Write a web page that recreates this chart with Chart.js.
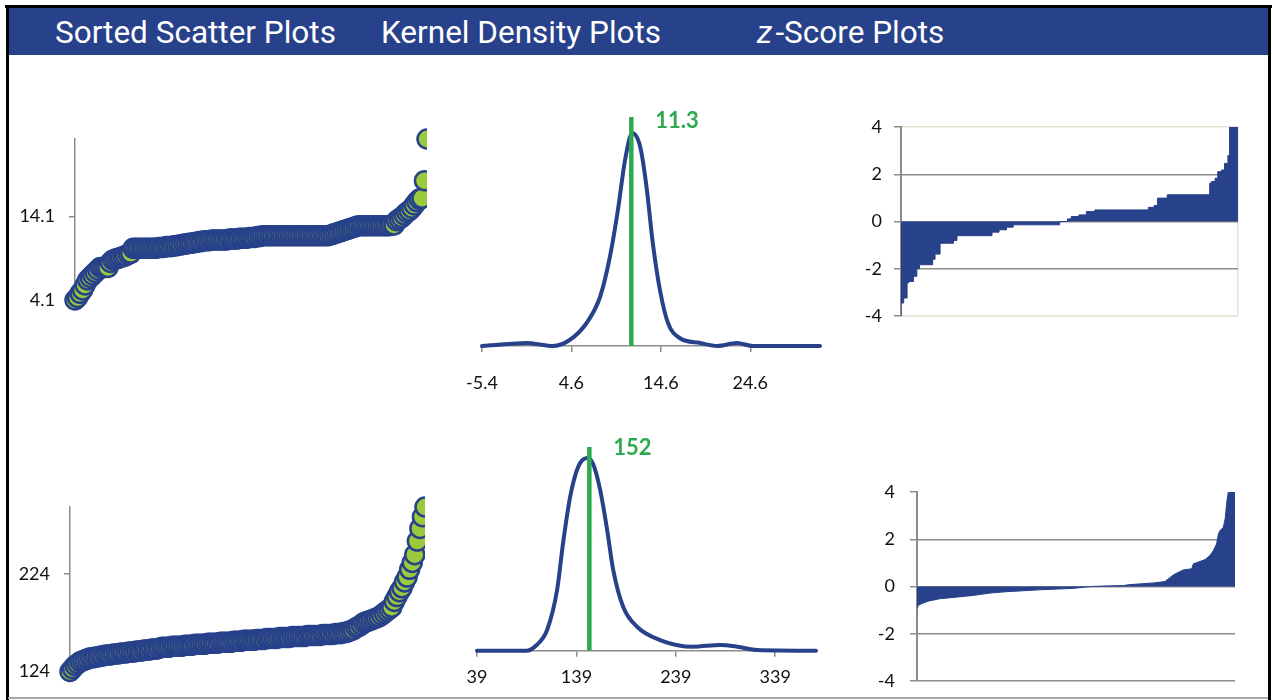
<!DOCTYPE html>
<html>
<head>
<meta charset="utf-8">
<title>Sorted Scatter, Kernel Density and z-Score Plots</title>
<script src="https://cdn.jsdelivr.net/npm/chart.js@4.4.1/dist/chart.umd.min.js"></script>
<style>
  body { margin: 0; background: #fff; width: 1272px; height: 700px; position: relative; overflow: hidden; }
  canvas { position: absolute; }
  .line { position: absolute; }
  .banner { position: absolute; left: 8px; top: 8px; width: 1260px; height: 47px; background: #27418A; }
  .banner span { position: absolute; top: 0; line-height: 50px; color: #fff; font-family: Roboto, sans-serif; font-size: 31.5px; white-space: nowrap; }
</style>
</head>
<body>
  <div class="banner">
    <span style="left:47px">Sorted Scatter Plots</span>
    <span style="left:373px">Kernel Density Plots</span>
    <span style="left:749px"><i>z</i>&#8202;-Score Plots</span>
  </div>

  <canvas id="scatterTop" width="440" height="240" style="left:0;top:100px"></canvas>
  <canvas id="kdeTop" width="400" height="300" style="left:440px;top:100px"></canvas>
  <canvas id="zTop" width="420" height="250" style="left:840px;top:100px"></canvas>
  <canvas id="scatterBottom" width="440" height="240" style="left:0;top:470px"></canvas>
  <canvas id="kdeBottom" width="400" height="280" style="left:440px;top:420px"></canvas>
  <canvas id="zBottom" width="420" height="250" style="left:840px;top:460px"></canvas>

  <div class="line" style="left:5px;top:5px;width:1267px;height:3px;background:#000"></div>
  <div class="line" style="left:6px;top:5px;width:2.5px;height:695px;background:#000"></div>
  <div class="line" style="left:1268px;top:5px;width:3px;height:695px;background:#000"></div>
  <div class="line" style="left:8px;top:697px;width:1260px;height:2px;background:#A6A6A6"></div>

<script>
// sorted scatter values (ascending, one per observation)
const sortedTop = [
  4.1, 4.4, 4.9, 5.3, 5.9, 6.5, 6.8, 7.1, 7.4, 7.7,
  8.0, 8.0, 8.0, 8.0, 8.6, 8.9, 9.0, 9.1, 9.2, 9.3,
  9.4, 9.6, 9.7, 10.3, 10.3, 10.3, 10.3, 10.3, 10.3, 10.3,
  10.3, 10.3, 10.3, 10.4, 10.4, 10.4, 10.5, 10.5, 10.5, 10.6,
  10.6, 10.7, 10.7, 10.8, 10.8, 10.9, 10.9, 11.0, 11.0, 11.1,
  11.1, 11.2, 11.2, 11.2, 11.3, 11.3, 11.3, 11.3, 11.3, 11.3,
  11.3, 11.4, 11.4, 11.4, 11.4, 11.5, 11.5, 11.5, 11.5, 11.6,
  11.6, 11.6, 11.7, 11.7, 11.8, 11.8, 11.8, 11.8, 11.8, 11.8,
  11.8, 11.8, 11.8, 11.8, 11.8, 11.8, 11.8, 11.8, 11.8, 11.8,
  11.8, 11.8, 11.8, 11.8, 11.8, 11.8, 11.8, 11.8, 11.8, 11.8,
  11.8, 11.9, 12.0, 12.1, 12.2, 12.3, 12.4, 12.5, 12.6, 12.7,
  12.8, 12.9, 13.0, 13.0, 13.0, 13.0, 13.0, 13.0, 13.0, 13.0,
  13.0, 13.0, 13.0, 13.0, 13.0, 13.1, 13.1, 13.6, 13.8, 14.0,
  14.3, 14.6, 14.8, 15.1, 15.5, 15.9, 16.2, 16.3, 18.4, 23.4
];
const sortedTopTicks = [4.1, 14.1];

const sortedBottom = [
  124, 127, 130, 132, 134, 135, 136, 137, 138, 138,
  139, 139, 140, 140, 141, 141, 141, 142, 142, 142,
  143, 143, 143, 144, 144, 144, 145, 145, 145, 146,
  146, 146, 147, 147, 147, 148, 149, 149, 149, 149,
  150, 150, 150, 150, 150, 151, 151, 151, 151, 152,
  152, 152, 152, 152, 153, 153, 153, 153, 153, 154,
  154, 154, 154, 154, 155, 155, 155, 155, 156, 156,
  156, 156, 156, 157, 157, 157, 157, 158, 158, 158,
  158, 158, 159, 159, 159, 159, 159, 160, 160, 160,
  160, 160, 160, 161, 161, 161, 161, 161, 161, 162,
  162, 162, 162, 162, 163, 163, 163, 164, 164, 165,
  166, 167, 169, 170, 172, 174, 175, 176, 177, 178,
  179, 180, 182, 184, 186, 188, 190, 196, 201, 206,
  210, 216, 221, 229, 236, 244, 258, 271, 283, 293
];
const sortedBottomTicks = [124, 224];

// kernel density curves
const kdeTopX = [-5.4, -2.5, -0.4, 1.5, 2.5, 4.4, 6.3, 7.8, 8.9, 9.8, 10.6, 11.4, 12.3, 13.0, 13.7, 14.5, 15.4, 16.7, 19.0, 20.9, 23.1, 24.9, 32.4];
const kdeTopY = [0, 0.002, 0.003, 0.001, 0, 0.006, 0.023, 0.049, 0.089, 0.136, 0.186, 0.213, 0.199, 0.159, 0.103, 0.056, 0.023, 0.008, 0.003, 0, 0.003, 0, 0];
const kdeTopTicks = [-5.4, 4.6, 14.6, 24.6];
const kdeTopMark = 11.3;

const kdeBottomX = [39, 89, 99, 109.5, 119.6, 125.6, 132.7, 140.7, 149.8, 155.8, 162.9, 169.9, 176, 186, 200, 223, 256.5, 283.7, 301, 321, 380];
const kdeBottomY = [0, 0, 0.00057, 0.00207, 0.0061, 0.0108, 0.0154, 0.0184, 0.0193, 0.0187, 0.0161, 0.0121, 0.0081, 0.0044, 0.0024, 0.00107, 0.0004, 0.00057, 0.0004, 0.00007, 0];
const kdeBottomTicks = [39, 139, 239, 339];
const kdeBottomMark = 152;

// z-scores by rank (percent of observations)
const zTopRank = [0, 0.8, 1.8, 2.3, 3.7, 4.7, 5.5, 9.4, 10.1, 11.6, 15.6, 16.6, 27.0, 29.1, 31.3, 33.3, 47.1, 49.4, 50.5, 52.8, 55.0, 57.5, 73.4, 75.1, 76.1, 79.0, 91.6, 92.1, 93.2, 94.0, 95.1, 96.0, 97.0, 97.5, 98.8, 100];
const zTopValue = [-4, -3.45, -3.24, -2.6, -2.54, -2.32, -2.0, -1.83, -1.6, -1.38, -0.92, -0.8, -0.6, -0.45, -0.35, -0.24, -0.14, 0, 0.11, 0.21, 0.28, 0.42, 0.49, 0.6, 0.68, 0.99, 1.13, 1.62, 1.69, 1.83, 2.11, 2.18, 2.46, 2.79, 4, 4];

const zBottomRank = [0, 0.4, 1.4, 3.5, 7.1, 12.4, 17.6, 22.9, 28.1, 33.4, 38.6, 43.9, 49.1, 53.3, 55.0, 58.6, 64.8, 66.9, 74.3, 78.0, 79.0, 80.6, 82.2, 83.7, 86.4, 86.9, 89.0, 90.6, 92.1, 93.2, 94.2, 94.8, 95.3, 96.3, 96.9, 97.4, 97.9, 100];
const zBottomValue = [-0.94, -0.8, -0.73, -0.62, -0.52, -0.45, -0.38, -0.28, -0.22, -0.18, -0.14, -0.11, -0.08, -0.02, 0, 0.02, 0.04, 0.08, 0.15, 0.21, 0.32, 0.49, 0.6, 0.7, 0.75, 0.96, 1.06, 1.14, 1.31, 1.52, 1.8, 2.23, 2.37, 2.5, 2.86, 3.56, 4, 4];

const BLUE = '#27418A';
const GREEN = '#2DAA4F';
const LIME = '#9BCB3C';
const GRID = '#8C8C8C';
const PALE = '#E4E4D2';
const TEXT = '#111';
const FONT = { family: 'Lato, "Liberation Sans", sans-serif', size: 18 };

Chart.defaults.animation = false;
Chart.defaults.responsive = false;
Chart.defaults.devicePixelRatio = 1;
Chart.defaults.events = [];
Chart.defaults.plugins.legend.display = false;
Chart.defaults.plugins.tooltip.enabled = false;

// green value label next to the marker line
const markLabel = {
  id: 'markLabel',
  afterDatasetsDraw(chart, args, opts) {
    const { ctx, scales: { x, y } } = chart;
    ctx.save();
    ctx.font = 'bold 22px Lato, "Liberation Sans", sans-serif';
    ctx.fillStyle = GREEN;
    ctx.textBaseline = 'middle';
    ctx.fillText(String(opts.value), x.getPixelForValue(opts.value) + opts.dx, y.getPixelForValue(y.max) + opts.dy);
    ctx.restore();
  }
};

// area = plot rectangle inside the canvas; the axis boxes get a fixed size so it lands there
function sortedScatter(id, values, ticks, yMin, yMax, area) {
  const el = document.getElementById(id);
  new Chart(el, {
    type: 'scatter',
    data: {
      datasets: [{
        data: values.map((v, i) => ({ x: i, y: v })),
        backgroundColor: LIME,
        borderColor: BLUE,
        borderWidth: 2.5,
        pointRadius: 9.5,
        clip: { left: false, top: false, right: 0, bottom: false }
      }]
    },
    options: {
      layout: { padding: { left: 0, top: area.top, right: el.width - area.right, bottom: el.height - area.bottom } },
      scales: {
        x: { type: 'linear', display: false, min: 0, max: values.length - 1 },
        y: {
          min: yMin,
          max: yMax,
          afterFit: s => { s.width = area.left; },
          afterBuildTicks: s => { s.ticks = ticks.map(v => ({ value: v })); },
          border: { color: GRID, width: 1.5 },
          grid: { drawOnChartArea: false, tickLength: 6, color: GRID, lineWidth: 1.5 },
          ticks: { padding: 14, color: TEXT, font: FONT, callback: v => String(v) }
        }
      }
    }
  });
}

function kernelDensity(id, xs, ys, ticks, mark, xMin, xMax, yMax, area, labelPad, labelDy) {
  const el = document.getElementById(id);
  new Chart(el, {
    type: 'line',
    plugins: [markLabel],
    data: {
      datasets: [
        {
          data: [{ x: mark, y: 0 }, { x: mark, y: yMax }],
          borderColor: GREEN,
          borderWidth: 4.5,
          pointRadius: 0,
          clip: false
        },
        {
          data: xs.map((x, i) => ({ x: x, y: ys[i] })),
          borderColor: BLUE,
          borderWidth: 4,
          borderCapStyle: 'round',
          pointRadius: 0,
          cubicInterpolationMode: 'monotone',
          clip: false
        }
      ]
    },
    options: {
      layout: { padding: { left: area.left, top: area.top, right: el.width - area.right, bottom: 0 } },
      plugins: { markLabel: { value: mark, dx: 24, dy: labelDy } },
      scales: {
        x: {
          type: 'linear',
          min: xMin,
          max: xMax,
          afterFit: s => { s.height = el.height - area.bottom; },
          afterBuildTicks: s => { s.ticks = ticks.map(v => ({ value: v })); },
          border: { color: GRID, width: 1.5 },
          grid: { drawOnChartArea: false, tickLength: 6, color: GRID, lineWidth: 1.5 },
          ticks: { padding: labelPad, color: TEXT, font: FONT, maxRotation: 0, callback: v => String(v) }
        },
        y: { display: false, min: 0, max: yMax }
      }
    }
  });
}

function zScores(id, ranks, values, stepped, area, labelPad, framed) {
  const el = document.getElementById(id);
  new Chart(el, {
    type: 'line',
    data: {
      datasets: [{
        data: ranks.map((r, i) => ({ x: r, y: values[i] })),
        stepped: stepped,
        fill: 'origin',
        backgroundColor: BLUE,
        borderColor: BLUE,
        borderWidth: 1,
        pointRadius: 0
      }]
    },
    options: {
      layout: { padding: { left: 0, top: area.top, right: el.width - area.right, bottom: el.height - area.bottom } },
      scales: {
        x: {
          type: 'linear',
          display: framed,
          min: 0,
          max: 100,
          afterFit: s => { s.height = 0; },
          afterBuildTicks: s => { s.ticks = [{ value: 0 }, { value: 100 }]; },
          border: { color: PALE, width: 1.5 },
          grid: { drawTicks: false, lineWidth: 1.5, color: c => c.tick && c.tick.value === 100 ? PALE : 'rgba(0,0,0,0)' },
          ticks: { display: false }
        },
        y: {
          min: -4,
          max: 4,
          afterFit: s => { s.width = area.left; },
          border: { color: GRID, width: 2 },
          grid: {
            tickLength: 7,
            lineWidth: 1.5,
            tickColor: GRID,
            color: c => {
              const v = c.tick.value;
              if (v === 4) return framed ? PALE : 'rgba(0,0,0,0)';
              if (v === -4) return framed ? PALE : GRID;
              return GRID;
            }
          },
          ticks: { stepSize: 2, padding: labelPad, color: TEXT, font: FONT }
        }
      }
    }
  });
}

sortedScatter('scatterTop', sortedTop, sortedTopTicks, 4.1, 23.4, { left: 75, right: 427, top: 39, bottom: 200 });
sortedScatter('scatterBottom', sortedBottom, sortedBottomTicks, 124, 293, { left: 70, right: 425, top: 37, bottom: 201.5 });

kernelDensity('kdeTop', kdeTopX, kdeTopY, kdeTopTicks, kdeTopMark, -5.4, 32.4, 0.229,
  { left: 42, right: 380, top: 17, bottom: 246 }, 20, 4);
kernelDensity('kdeBottom', kdeBottomX, kdeBottomY, kdeBottomTicks, kdeBottomMark, 39, 380, 0.0204,
  { left: 37, right: 376, top: 27, bottom: 230.7 }, 10, 1);

zScores('zTop', zTopRank, zTopValue, 'after', { left: 61, right: 398, top: 27, bottom: 216 }, 12, true);
zScores('zBottom', zBottomRank, zBottomValue, false, { left: 77, right: 395, top: 32, bottom: 221 }, 15, false);
</script>
</body>
</html>
